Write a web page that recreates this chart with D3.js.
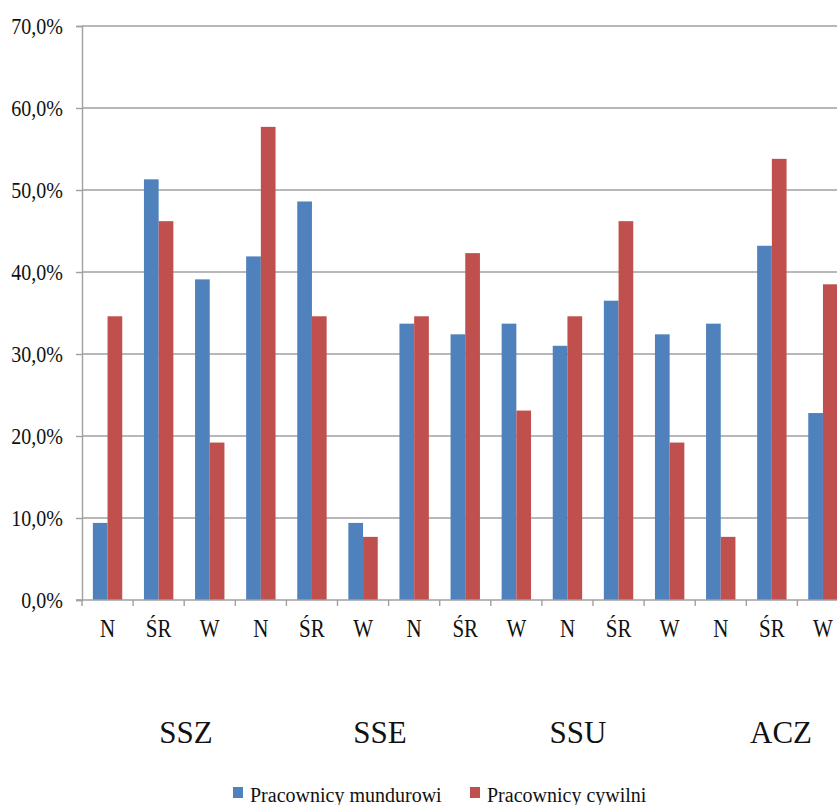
<!DOCTYPE html>
<html>
<head>
<meta charset="utf-8">
<script src="https://cdn.jsdelivr.net/npm/d3@7"></script>
<style>
  html, body { margin: 0; padding: 0; background: #fff; }
  svg, svg text { font-family: "Liberation Serif", "Times New Roman", serif !important; }
  svg { display: block; }
</style>
</head>
<body>
<svg id="chart" width="837" height="805"></svg>
<script>
// Levels within each unit
const categories = ["N", "ŚR", "W", "N", "ŚR", "W", "N", "ŚR", "W", "N", "ŚR", "W", "N", "ŚR", "W"];
// Unit names shown beneath the level labels
const groupLabels = ["SSZ", "SSE", "SSU", "ACZ"];
const groupLabelX = [186, 380, 578, 781];
// Share of respondents, in percent
const mundurowi = [9.4, 51.3, 39.1, 41.9, 48.6, 9.4, 33.7, 32.4, 33.7, 31.0, 36.5, 32.4, 33.7, 43.2, 22.8];
const cywilni   = [34.6, 46.2, 19.2, 57.7, 34.6, 7.7, 34.6, 42.3, 23.1, 34.6, 46.2, 19.2, 7.7, 53.8, 38.5];
const seriesNames = ["Pracownicy mundurowi", "Pracownicy cywilni"];
const yTicks = [0, 10, 20, 30, 40, 50, 60, 70];

const colors = ["#4f81bd", "#c0504d"];
const serif = "'Liberation Serif', 'Times New Roman', serif";
const svg = d3.select("#chart");

const plotLeft = 82, plotTop = 26, plotBottom = 600;
const band = 51.1;
const idx = d3.range(categories.length);

const x = d3.scaleBand().domain(idx).range([plotLeft, plotLeft + band * categories.length]).paddingInner(0).paddingOuter(0);
const y = d3.scaleLinear().domain([0, 70]).range([plotBottom, plotTop]);
const barW = 14.7;
const fmt = v => d3.format(".1f")(v).replace(".", ",") + "%";

// Horizontal gridlines
svg.append("g")
  .selectAll("line")
  .data(yTicks.filter(d => d > 0))
  .join("line")
  .attr("x1", plotLeft).attr("x2", 837)
  .attr("y1", d => y(d)).attr("y2", d => y(d))
  .attr("stroke", "#a0a0a0").attr("stroke-width", 1.4);

// Y axis
const yAxis = svg.append("g")
  .attr("transform", `translate(${plotLeft},0)`)
  .call(d3.axisLeft(y).tickValues(yTicks).tickFormat(fmt).tickSize(6).tickPadding(13));
yAxis.attr("font-family", null);
yAxis.select(".domain").attr("stroke", "#a0a0a0").attr("stroke-width", 1.4);
yAxis.selectAll(".tick line").attr("stroke", "#a0a0a0").attr("stroke-width", 1.4);
yAxis.selectAll(".tick text")
  .attr("fill", "#111")
  .style("font-size", "20px")
  .style("font-family", serif)
  .attr("transform", "scale(1,1.13)");

// Bars
const series = [mundurowi, cywilni];
series.forEach((vals, s) => {
  svg.append("g")
    .selectAll("rect")
    .data(vals)
    .join("rect")
    .attr("x", (d, i) => x(i) + band / 2 - barW + s * barW)
    .attr("y", d => y(d))
    .attr("width", barW)
    .attr("height", d => y(0) - y(d))
    .attr("fill", colors[s]);
});

// X axis
const xAxis = svg.append("g")
  .attr("transform", `translate(0,${plotBottom})`)
  .call(d3.axisBottom(x).tickFormat(i => categories[i]).tickSize(0).tickPadding(0));
xAxis.attr("font-family", null);
xAxis.select(".domain").remove();
svg.append("line")
  .attr("x1", plotLeft - 6).attr("x2", 837)
  .attr("y1", plotBottom).attr("y2", plotBottom)
  .attr("stroke", "#a0a0a0").attr("stroke-width", 1.4);
// Tick marks on band boundaries
svg.append("g")
  .selectAll("line")
  .data(d3.range(categories.length + 1))
  .join("line")
  .attr("x1", i => plotLeft + i * x.bandwidth()).attr("x2", i => plotLeft + i * x.bandwidth())
  .attr("y1", plotBottom).attr("y2", plotBottom + 6)
  .attr("stroke", "#a0a0a0").attr("stroke-width", 1.4);
xAxis.selectAll(".tick text")
  .attr("y", 0).attr("dy", 0)
  .attr("fill", "#111")
  .style("font-size", "21px")
  .style("font-family", serif)
  .attr("transform", "translate(0,37) scale(1,1.15)");

// Unit labels
svg.append("g")
  .selectAll("text")
  .data(groupLabels)
  .join("text")
  .attr("x", (d, i) => groupLabelX[i])
  .attr("y", 743)
  .attr("text-anchor", "middle")
  .attr("fill", "#111")
  .style("font-size", "31px")
  .style("font-family", serif)
  .text(d => d);

// Legend
const legendX = [233, 470];
const lg = svg.append("g");
seriesNames.forEach((name, s) => {
  lg.append("rect")
    .attr("x", legendX[s]).attr("y", 787)
    .attr("width", 10).attr("height", 11)
    .attr("fill", colors[s]);
  lg.append("text")
    .attr("x", legendX[s] + 17).attr("y", 802)
    .attr("fill", "#111")
    .style("font-size", "20px")
    .style("font-family", serif)
    .text(name);
});
</script>
</body>
</html>
